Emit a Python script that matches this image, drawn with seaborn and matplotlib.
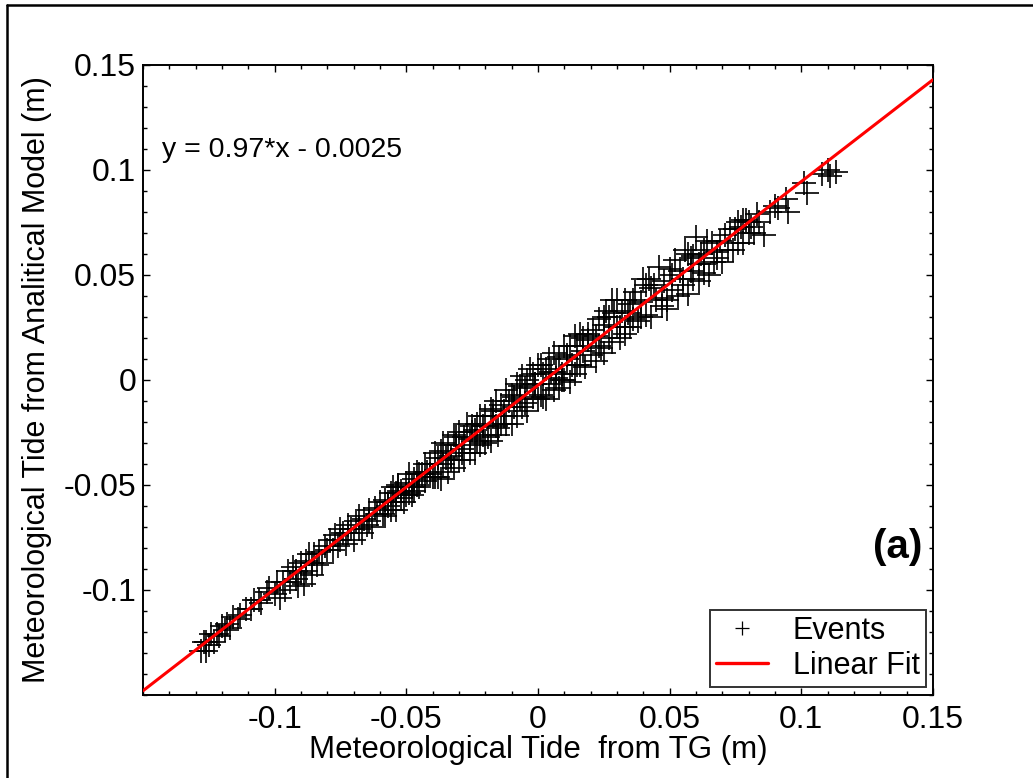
import numpy as np
import pandas as pd
import matplotlib
matplotlib.use("Agg")
import matplotlib.pyplot as plt
from matplotlib.lines import Line2D
from matplotlib.ticker import FixedLocator, MultipleLocator
import seaborn as sns

# ==========================================
# 1. DADOS
# ==========================================
tg_x = [
    -0.128, -0.127, -0.126, -0.126, -0.125, -0.124, -0.123, -0.122, -0.121, -0.120, -0.119, -0.118, -0.117, -0.116, -0.114, -0.113,
    -0.111, -0.109, -0.108, -0.106, -0.105, -0.103, -0.102, -0.100, -0.099, -0.098, -0.097, -0.096, -0.095, -0.094,
    -0.093, -0.092, -0.092, -0.091, -0.090, -0.090, -0.089, -0.088, -0.088, -0.087, -0.086, -0.086, -0.085, -0.084, -0.083, -0.082, -0.081, -0.080, -0.079, -0.078,
    -0.077, -0.076, -0.075, -0.075, -0.074, -0.073, -0.072, -0.072, -0.071, -0.070, -0.069, -0.068, -0.068, -0.067, -0.066, -0.065, -0.064, -0.064, -0.063, -0.062, -0.061, -0.060,
    -0.059, -0.058, -0.058, -0.057, -0.056, -0.056, -0.055, -0.054, -0.054, -0.053, -0.052, -0.052, -0.051, -0.050, -0.050, -0.049, -0.048, -0.048, -0.047, -0.046, -0.046, -0.045, -0.044, -0.043, -0.043, -0.042, -0.041, -0.040,
    -0.039, -0.038, -0.038, -0.037, -0.036, -0.036, -0.035, -0.034, -0.034, -0.033, -0.032, -0.032, -0.031, -0.030, -0.030, -0.029, -0.028, -0.028, -0.027, -0.026, -0.026, -0.025, -0.024, -0.024, -0.023, -0.022, -0.022, -0.021, -0.020, -0.020,
    -0.019, -0.018, -0.018, -0.017, -0.016, -0.016, -0.015, -0.014, -0.014, -0.013, -0.012, -0.012, -0.011, -0.010, -0.010, -0.009, -0.008, -0.008, -0.007, -0.006, -0.006, -0.005, -0.004, -0.004, -0.003, -0.002, -0.002, -0.001, 0.000, 0.000,
    0.001, 0.002, 0.002, 0.003, 0.004, 0.004, 0.005, 0.006, 0.006, 0.007, 0.008, 0.008, 0.009, 0.010, 0.010, 0.011, 0.012, 0.012, 0.013, 0.014, 0.014, 0.015, 0.016, 0.016, 0.017, 0.018, 0.019, 0.020,
    0.021, 0.022, 0.022, 0.023, 0.024, 0.025, 0.025, 0.026, 0.027, 0.028, 0.028, 0.029, 0.030, 0.030, 0.031, 0.032, 0.033, 0.033, 0.034, 0.035, 0.036, 0.036, 0.037, 0.038, 0.039, 0.040,
    0.041, 0.042, 0.043, 0.044, 0.045, 0.046, 0.047, 0.048, 0.049, 0.050, 0.051, 0.052, 0.053, 0.054, 0.055, 0.056, 0.057, 0.058, 0.059, 0.060, 0.061, 0.062, 0.063, 0.064, 0.065, 0.066,
    0.058, 0.061, 0.063, 0.067, 0.068,
    0.068, 0.069, 0.070, 0.071, 0.072, 0.073, 0.074, 0.075, 0.076, 0.076, 0.077, 0.078, 0.078, 0.079, 0.080, 0.080, 0.081, 0.082, 0.083, 0.084,
    0.086, 0.088, 0.090, 0.091, 0.094, 0.095, 0.101, 0.102, 0.108, 0.110, 0.111, 0.113,
    # pontos extras da faixa central (mais densa)
    -0.057, -0.053, -0.049, -0.045, -0.041, -0.037, -0.033, -0.029, -0.025, -0.021, -0.017, -0.013, -0.009, -0.005, -0.001, 0.003,
    0.007, 0.011, 0.015, 0.019, 0.023, 0.027, 0.031, 0.035, 0.039, 0.043, 0.047, 0.051, 0.055, 0.059, 0.063,
    -0.055, -0.047, -0.039, -0.031, -0.023, -0.015, -0.007, 0.001, 0.009, 0.017, 0.025, 0.033, 0.041, 0.049, 0.057,
]
modelo_y = [
    -0.129, -0.125, -0.129, -0.125, -0.126, -0.121, -0.125, -0.121, -0.122, -0.117, -0.119, -0.116, -0.118, -0.113, -0.114, -0.112,
    -0.109, -0.109, -0.105, -0.105, -0.106, -0.101, -0.099, -0.102, -0.096, -0.104, -0.096, -0.100, -0.091, -0.096,
    -0.089, -0.095, -0.091, -0.098, -0.087, -0.092, -0.097, -0.086, -0.091, -0.083, -0.087, -0.093, -0.083, -0.088, -0.082, -0.087, -0.079, -0.081, -0.076, -0.081,
    -0.074, -0.079, -0.071, -0.076, -0.073, -0.078, -0.069, -0.073, -0.071, -0.076, -0.067, -0.065, -0.071, -0.073, -0.066, -0.069, -0.062, -0.067, -0.070, -0.061, -0.064, -0.058,
    -0.064, -0.057, -0.065, -0.058, -0.054, -0.062, -0.058, -0.054, -0.062, -0.050, -0.056, -0.053, -0.058, -0.049, -0.055, -0.045, -0.051, -0.055, -0.047, -0.050, -0.044, -0.051, -0.045, -0.040, -0.048, -0.044, -0.040, -0.046,
    -0.035, -0.046, -0.037, -0.047, -0.030, -0.040, -0.037, -0.044, -0.031, -0.038, -0.026, -0.042, -0.031, -0.038, -0.025, -0.033, -0.038, -0.027, -0.021, -0.035, -0.028, -0.022, -0.035, -0.024, -0.029, -0.017, -0.031, -0.022, -0.030, -0.017,
    -0.027, -0.014, -0.029, -0.017, -0.022, -0.010, -0.026, -0.012, -0.021, -0.015, -0.005, -0.021, -0.010, -0.021, -0.007, -0.013, -0.002, -0.017, -0.009, 0.002, -0.013, -0.004, -0.015, 0.000, 0.005, -0.008, 0.003, -0.002, 0.007, -0.009,
    0.007, -0.008, 0.003, -0.009, 0.010, -0.002, 0.004, -0.005, 0.013, 0.004, -0.004, 0.011, 0.003, 0.016, 0.000, 0.010, -0.001, 0.016, 0.007, 0.021, 0.003, 0.016, 0.007, 0.022, 0.014, 0.006, 0.022, 0.012,
    0.024, 0.009, 0.021, 0.029, 0.015, 0.026, 0.013, 0.033, 0.020, 0.038, 0.018, 0.032, 0.025, 0.038, 0.020, 0.033, 0.025, 0.038, 0.032, 0.025, 0.038, 0.029, 0.042, 0.028, 0.037, 0.048,
    0.031, 0.048, 0.030, 0.045, 0.038, 0.054, 0.035, 0.047, 0.034, 0.053, 0.043, 0.057, 0.040, 0.052, 0.045, 0.062, 0.041, 0.058, 0.048, 0.068, 0.047, 0.060, 0.051, 0.066, 0.050, 0.065,
    0.052, 0.055, 0.062, 0.056, 0.061,
    0.058, 0.066, 0.056, 0.069, 0.062, 0.072, 0.062, 0.072, 0.075, 0.065, 0.073, 0.076, 0.065, 0.076, 0.075, 0.070, 0.073, 0.070, 0.079, 0.075,
    0.069, 0.080, 0.083, 0.082, 0.086, 0.080, 0.094, 0.089, 0.098, 0.100, 0.097, 0.099,
    # pontos extras da faixa central (mais densa)
    -0.060, -0.051, -0.054, -0.045, -0.045, -0.034, -0.036, -0.035, -0.025, -0.026, -0.015, -0.017, -0.008, -0.011, -0.002, 0.005,
    0.001, 0.012, 0.007, 0.019, 0.016, 0.030, 0.025, 0.036, 0.030, 0.044, 0.039, 0.050, 0.048, 0.059, 0.055,
    -0.051, -0.053, -0.046, -0.027, -0.021, -0.023, -0.003, -0.007, 0.000, 0.020, 0.030, 0.022, 0.045, 0.038, 0.060,
]

# Ajuste linear: y = 0.97*x - 0.0025
coef_angular = 0.97
coef_linear = -0.0025
ajuste_x = [-0.15, 0.15]

ticks_valores = [-0.1, -0.05, 0, 0.05, 0.1, 0.15]
ticks_rotulos = ["-0.1", "-0.05", "0", "0.05", "0.1", "0.15"]

df = pd.DataFrame({"tg": tg_x, "modelo": modelo_y})
df_ajuste = pd.DataFrame({"x": ajuste_x})
df_ajuste["y"] = coef_angular * df_ajuste["x"] + coef_linear

# ==========================================
# 2. ESTILO
# ==========================================
sns.set_theme(style="white")
plt.rcParams["font.family"] = ["Liberation Sans", "DejaVu Sans"]
plt.rcParams["text.color"] = "black"
plt.rcParams["axes.labelcolor"] = "black"
plt.rcParams["xtick.color"] = "black"
plt.rcParams["ytick.color"] = "black"

fig = plt.figure(figsize=(10.33, 7.78), dpi=100)
ax = fig.add_axes([0.1384, 0.1067, 0.7648, 0.8098])

# ==========================================
# 3. GRÁFICO
# ==========================================
sns.scatterplot(data=df, x="tg", y="modelo", marker="+", s=290, color="black",
                linewidth=1.2, ax=ax, legend=False, zorder=2)
sns.lineplot(data=df_ajuste, x="x", y="y", color="red", linewidth=2.2, ax=ax,
             legend=False, zorder=3)

ax.set_xlim(-0.15, 0.15)
ax.set_ylim(-0.15, 0.15)

ax.xaxis.set_major_locator(FixedLocator(ticks_valores))
ax.yaxis.set_major_locator(FixedLocator(ticks_valores))
ax.set_xticklabels(ticks_rotulos)
ax.set_yticklabels(ticks_rotulos)
ax.xaxis.set_minor_locator(MultipleLocator(0.01))
ax.yaxis.set_minor_locator(MultipleLocator(0.01))
ax.tick_params(which="both", direction="in", top=True, right=True, bottom=True, left=True,
               color="black", labelcolor="black", labelsize=23)
ax.tick_params(axis="x", pad=7)
ax.tick_params(axis="y", pad=5)
ax.tick_params(which="major", length=5, width=1)
ax.tick_params(which="minor", length=3, width=1)

for sp in ax.spines.values():
    sp.set_color("black")
    sp.set_linewidth(1.4)

ax.set_xlabel("Meteorological Tide  from TG (m)", fontsize=22.5, labelpad=0, color="black")
ax.set_ylabel("Meteorological Tide from Analitical Model (m)", fontsize=22, labelpad=8, color="black")

ax.text(0.024, 0.865, "y = 0.97*x - 0.0025", transform=ax.transAxes, fontsize=20.5,
        ha="left", va="center", color="black")
ax.text(0.987, 0.235, "(a)", transform=ax.transAxes, fontsize=29, fontweight="bold",
        ha="right", va="center", color="black")

handles = [
    Line2D([], [], color="black", marker="+", linestyle="none", markersize=10, markeredgewidth=0.9),
    Line2D([], [], color="red", linewidth=2.4),
]
leg = ax.legend(handles, ["Events", "Linear Fit"], loc="lower right",
                bbox_to_anchor=(0.991, 0.013), fontsize=22, frameon=True, fancybox=False,
                handlelength=1.7, borderpad=0.2, labelspacing=0.15, handletextpad=0.8,
                borderaxespad=0)
leg.get_frame().set_edgecolor("black")
leg.get_frame().set_linewidth(1.4)
for t in leg.get_texts():
    t.set_color("black")

# Moldura da figura (linhas superior e esquerda)
fig.add_artist(Line2D([7 / 1033, 1.0], [1 - 5 / 778, 1 - 5 / 778], color="black", linewidth=1.8))
fig.add_artist(Line2D([7 / 1033, 7 / 1033], [0.0, 1 - 5 / 778], color="black", linewidth=1.8))

fig.savefig("out.png", dpi=100)
